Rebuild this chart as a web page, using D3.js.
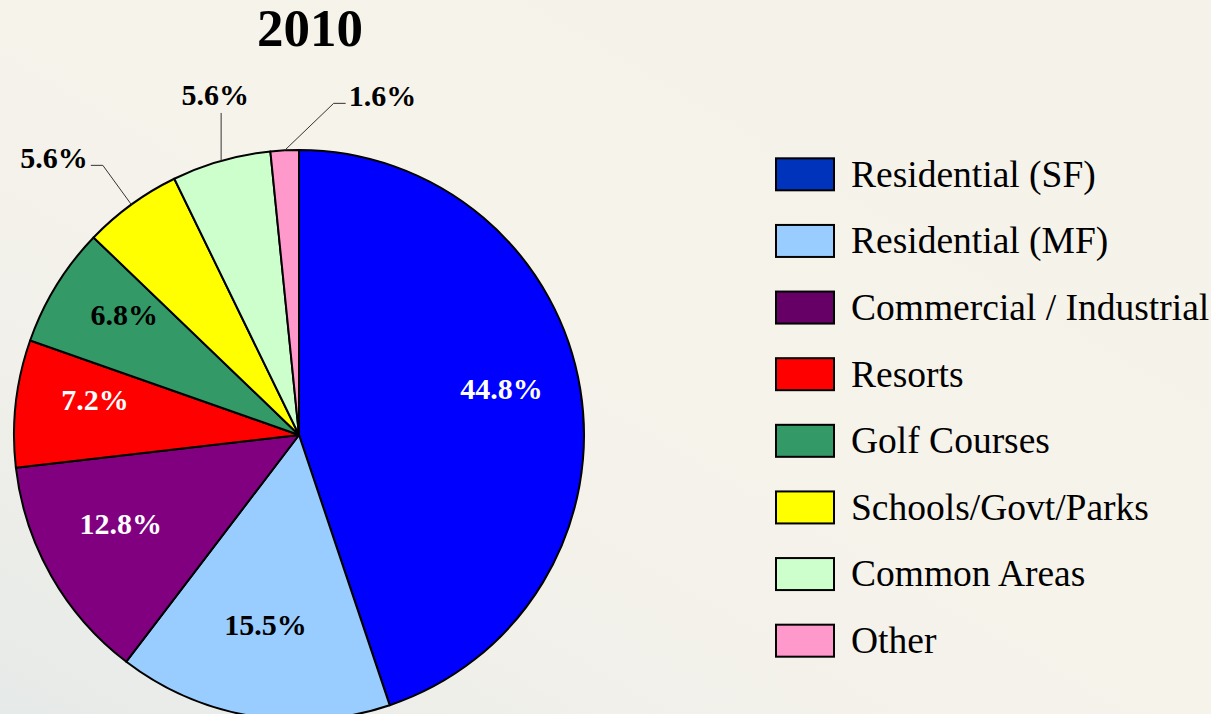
<!DOCTYPE html>
<html>
<head>
<meta charset="utf-8">
<script src="https://cdn.jsdelivr.net/npm/d3@7"></script>
<style>
  body { margin: 0; background: #f5f2ea; }
  svg { display: block; }
</style>
</head>
<body>
<div id="chart"></div>
<script>
// chart data
var categories = ["Residential (SF)", "Residential (MF)", "Commercial / Industrial", "Resorts",
                  "Golf Courses", "Schools/Govt/Parks", "Common Areas", "Other"];
var shares = [44.8, 15.5, 12.8, 7.2, 6.8, 5.6, 5.6, 1.6];
var sliceColors = ["#0000ff", "#99ccff", "#800080", "#ff0000", "#339966", "#ffff00", "#ccffcc", "#ff99cc"];
var legendColors = ["#0033bb", "#99ccff", "#660066", "#ff0000", "#339966", "#ffff00", "#ccffcc", "#ff99cc"];
var labelColors = ["#fff", "#000", "#fff", "#fff", "#000", "#000", "#000", "#000"];
var outside = [false, false, false, false, false, true, true, true];
var title = "2010";

var W = 1211, H = 714;
var cx = 299, cy = 435, r = 285;
var font = "'Liberation Serif', 'Times New Roman', serif";

var svg = d3.select("#chart").append("svg")
    .attr("width", W)
    .attr("height", H);

// background, greyish on the left fading to beige
var defs = svg.append("defs");
var grad = defs.append("linearGradient").attr("id", "bg")
    .attr("x1", "0").attr("y1", "1").attr("x2", "1").attr("y2", "0");
grad.append("stop").attr("offset", "0").attr("stop-color", "#e6eae8");
grad.append("stop").attr("offset", "0.25").attr("stop-color", "#f1f0ea");
grad.append("stop").attr("offset", "0.5").attr("stop-color", "#f6f3eb");
grad.append("stop").attr("offset", "1").attr("stop-color", "#f5f2ea");
svg.append("rect").attr("width", W).attr("height", H).attr("fill", "url(#bg)");

svg.append("text")
    .attr("x", 310)
    .attr("y", 46)
    .attr("text-anchor", "middle")
    .style("font-family", font)
    .style("font-weight", "bold")
    .style("font-size", "53px")
    .text(title);

var data = categories.map(function (c, i) {
    return {name: c, value: shares[i], color: sliceColors[i], lc: labelColors[i], out: outside[i]};
});

var pie = d3.pie().sort(null).value(function (d) { return d.value; });
var arc = d3.arc().innerRadius(0).outerRadius(r);
var arcs = pie(data);

var g = svg.append("g").attr("transform", "translate(" + cx + "," + cy + ")");

g.selectAll("path.slice")
    .data(arcs)
    .enter()
    .append("path")
    .attr("class", "slice")
    .attr("d", arc)
    .attr("fill", function (d) { return d.data.color; })
    .attr("stroke", "#000")
    .attr("stroke-width", 2)
    .attr("stroke-linejoin", "round");

// inside labels
var inner = d3.arc().innerRadius(r * 0.72).outerRadius(r * 0.72);
g.selectAll("text.inlabel")
    .data(arcs.filter(function (d) { return !d.data.out; }))
    .enter()
    .append("text")
    .attr("class", "inlabel")
    .attr("transform", function (d) {
        var c = inner.centroid(d);
        return "translate(" + c[0] + "," + (c[1] - 13) + ")";
    })
    .attr("text-anchor", "middle")
    .attr("dy", "0.35em")
    .attr("fill", function (d) { return d.data.lc; })
    .style("font-family", font)
    .style("font-weight", "bold")
    .style("font-size", "30px")
    .text(function (d) { return d.data.value.toFixed(1) + "%"; });

// outside labels with leader lines, spread apart so they don't collide
var outs = arcs.filter(function (d) { return d.data.out; }).map(function (d) {
    return {d: d, mid: (d.startAngle + d.endAngle) / 2};
});
var minSep = 21 * Math.PI / 180;
outs.forEach(function (o, i) {
    o.ang = o.mid;
    if (i > 0 && o.ang - outs[i - 1].ang < minSep) o.ang = outs[i - 1].ang + minSep;
});

outs.forEach(function (o) {
    var ax = r * Math.sin(o.mid), ay = -r * Math.cos(o.mid);
    var er = r * 1.17;
    var deg = ((o.ang * 180 / Math.PI) + 540) % 360 - 180;
    var label = o.d.data.value.toFixed(1) + "%";
    var pts, tx, ty, anchor;
    if (deg > -30 && deg < 0) {
        // straight up, label above
        var ey = -er * Math.cos(o.ang);
        pts = [[ax, ay], [ax, ey]];
        tx = ax - 6; ty = ey - 8; anchor = "middle";
    } else {
        var ex = er * Math.sin(o.ang), ey2 = -er * Math.cos(o.ang);
        var side = ex < 0 ? -1 : 1;
        pts = [[ax, ay], [ex, ey2], [ex + side * 12, ey2]];
        tx = ex + side * 15; ty = ey2 + 3; anchor = side < 0 ? "end" : "start";
    }
    g.append("path")
        .attr("d", d3.line()(pts))
        .attr("fill", "none")
        .attr("stroke", "#333")
        .attr("stroke-width", 1);
    g.append("text")
        .attr("x", tx)
        .attr("y", ty)
        .attr("text-anchor", anchor)
        .attr("fill", "#000")
        .style("font-family", font)
        .style("font-weight", "bold")
        .style("font-size", "30px")
        .text(label);
});

// legend
var ly = d3.scaleBand().domain(categories).range([141, 674]);
var legend = svg.append("g").attr("transform", "translate(776,0)");
var rows = legend.selectAll("g.row")
    .data(categories)
    .enter()
    .append("g")
    .attr("class", "row")
    .attr("transform", function (d) { return "translate(0," + (ly(d) + ly.bandwidth() / 2) + ")"; });

rows.append("rect")
    .attr("x", 0)
    .attr("y", -16)
    .attr("width", 58)
    .attr("height", 32)
    .attr("fill", function (d, i) { return legendColors[i]; })
    .attr("stroke", "#000")
    .attr("stroke-width", 2);

rows.append("text")
    .attr("x", 75)
    .attr("y", 0)
    .attr("dy", "0.33em")
    .style("font-family", font)
    .style("font-size", "37.5px")
    .attr("fill", "#000")
    .text(function (d) { return d; });
</script>
</body>
</html>
